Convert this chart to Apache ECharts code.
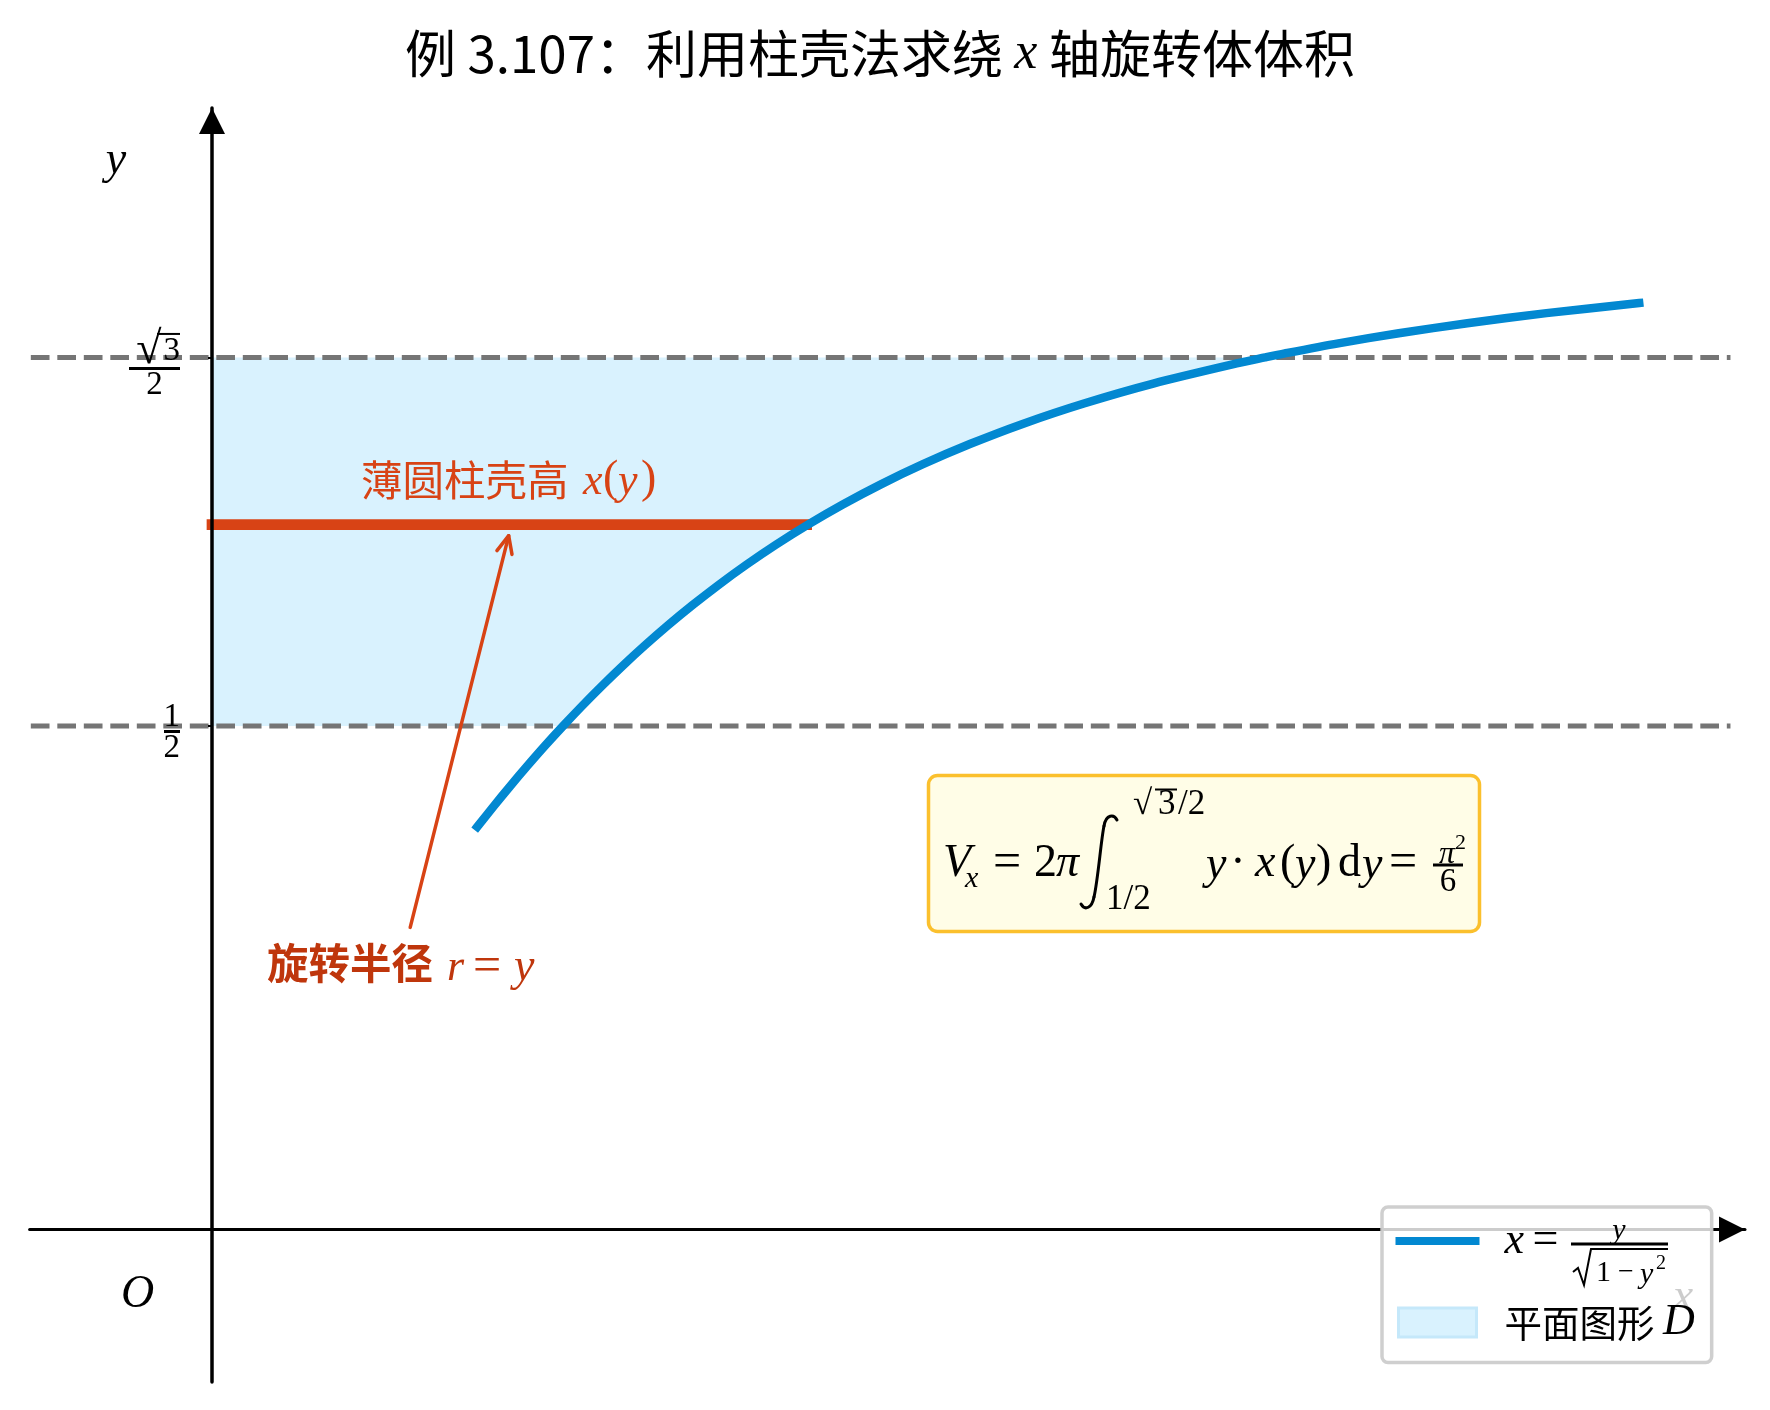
<!DOCTYPE html>
<html><head><meta charset="utf-8">
<style>html,body{margin:0;padding:0;background:#fff}#c{width:1770px;height:1410px}</style>
<script src="https://cdn.jsdelivr.net/npm/echarts@6/dist/echarts.min.js"></script>
</head><body><div id="c"></div>
<script>
// ---- data ----
const curveY = [0.40,0.42,0.44,0.46,0.48,0.50,0.52,0.54,0.56,0.58,0.60,0.62,0.64,0.66,0.68,0.70,0.72,0.74,0.76,0.78,0.80,0.82,0.84,0.86,0.866,0.87,0.88,0.89,0.90,0.91,0.92];
const curveX = [0.4364,0.4628,0.4900,0.5181,0.5471,0.5774,0.6088,0.6416,0.6759,0.7120,0.7500,0.7902,0.8329,0.8785,0.9274,0.9802,1.0375,1.1002,1.1694,1.2465,1.3333,1.4327,1.5481,1.6853,1.7321,1.7645,1.8526,1.9519,2.0647,2.1948,2.3474];
const boundY = [0.5, 0.866];
const dashX = [-0.298, 2.4975];
const shellX = [0, 0.978];
const shellY = [0.7, 0.7];
const arrowX = [0.326, 0.488];
const arrowY = [0.30, 0.689];
const curveName = 'x = y/√(1 − y²)';
const areaName = '平面图形 D';
const titleParts = ['例 3.107：利用柱壳法求绕 ', 'x', ' 轴旋转体体积'];

// ---- style ----
const CJK = '"Noto Sans CJK SC"';
const MATH = '"Liberation Serif"';
const BLUE='#0288d1', RED='#d84315', DARK='#bf360c', GREY='#757575';

const curveData = curveX.map((x,i)=>[x,curveY[i]]);
const shadeData = curveData.filter(p=>p[1]>=boundY[0]-1e-9 && p[1]<=boundY[1]+1e-9);

function T(text,x,y,size,o){o=o||{};return {type:'text',z:o.z||30,style:{text:text,x:x,y:y,
  font:(o.italic===false?'':'italic ')+size+'px '+MATH,fill:o.fill||'#000',opacity:o.opacity==null?1:o.opacity,
  align:o.align||'left',verticalAlign:'middle'}};}
function L(x1,y1,x2,y2,w,z){return {type:'line',z:z||30,shape:{x1,y1,x2,y2},style:{stroke:'#000',lineWidth:w}};}
function P(points,w,z){return {type:'polyline',z:z||30,shape:{points},style:{stroke:'#000',lineWidth:w,fill:null}};}
function B(x1,y1,cpx1,cpy1,cpx2,cpy2,x2,y2){return {type:'bezierCurve',z:30,shape:{x1,y1,cpx1,cpy1,cpx2,cpy2,x2,y2},style:{stroke:'#000',lineWidth:3,fill:null,lineCap:'round'}};}
function R(text,x,y,size,o){return T(text,x,y,size,Object.assign({italic:false},o||{}));}

const F=864; // formula centre line
const graphics = [
  // origin label and x axis label (faded under the legend)
  T('O',121,1295,46),
  T('x',1683,1298,46,{z:1,align:'center'}),
  // shell height label
  {type:'text',z:30,style:{text:'薄圆柱壳高',x:361,y:480,font:'41.5px '+CJK,fill:RED,align:'left',verticalAlign:'middle'}},
  T('x',583,482,44,{fill:RED}), R('(',603,480,46,{fill:RED}), T('y',618,482,44,{fill:RED}), R(')',641,480,46,{fill:RED}),
  // radius label
  {type:'text',z:30,style:{text:'旋转半径',x:267,y:963,font:'bold 41.5px '+CJK,fill:DARK,align:'left',verticalAlign:'middle'}},
  T('r',447,968,44,{fill:DARK}), R('=',473,968,50,{fill:DARK}), T('y',514,968,46,{fill:DARK}),
  // formula box
  {type:'rect',z:25,shape:{x:928.5,y:775.5,width:551,height:156,r:9},style:{fill:'#fffde7',stroke:'#fbc02d',lineWidth:3.5}},
  T('V',943,F,46), T('x',965,F+15,30), R('=',993,F,50), R('2',1034,F,46), T('π',1056,F,46),
  B(1117,820,1114,814,1106,814,1104,826), B(1104,826,1101,840,1098,880,1094,897), B(1094,897,1092,908,1085,911,1081,904),
  R('√',1133,805,35), L(1155,789.5,1177,789.5,2), R('3',1158,805,35), R('/2',1178,805,35),
  R('1/2',1106,900,35),
  T('y',1206,F+2,46), R('·',1238,F,46,{align:'center'}), T('x',1255,F,46), R('(',1280,F,46), T('y',1295,F+2,46), R(')',1316,F,46),
  R('d',1338,F,46), T('y',1362,F+2,46), R('=',1389,F,50),
  T('π',1447,855,32,{align:'center'}), R('2',1455,843,22), L(1433,865,1463,865,3), R('6',1448,882,33,{align:'center'}),
  // legend fraction overlay
  T('y',1619,1231,30,{align:'center'}), L(1571,1244,1668,1244,3),
  P([[1573,1272],[1578,1268],[1584,1285],[1591,1249],[1668,1249]],2),
  R('1',1596,1273,30), R('−',1618,1273,28), T('y',1640,1275,30), R('2',1656,1264,20)
];

const fracRich = {
  s15:{height:19,width:1,fontSize:1}, s13:{height:16,width:1,fontSize:1},
  ob:{height:2,width:23,backgroundColor:'#000',fontSize:1},
  bar:{height:3,width:51,backgroundColor:'#000',fontSize:1},
  bar2:{height:3,width:16,backgroundColor:'#000',fontSize:1},
  n:{fontFamily:MATH,fontSize:33,color:'#000',lineHeight:26},
  rr:{fontFamily:MATH,fontSize:46,color:'#000',lineHeight:32,padding:[0,2,0,0]},
  r:{fontFamily:MATH,fontSize:33,color:'#000',lineHeight:32},
  d:{fontFamily:MATH,fontSize:33,color:'#000',width:51,align:'center',lineHeight:31},
  d2:{fontFamily:MATH,fontSize:33,color:'#000',width:16,align:'center',lineHeight:31}
};

const option = {
  animation:false,
  backgroundColor:'#fff',
  title:{text:'{c|'+titleParts[0]+'}{m|'+titleParts[1]+'}{c|'+titleParts[2]+'}',left:875,top:19,textAlign:'center',
    textStyle:{fontWeight:'normal',rich:{c:{fontFamily:CJK,fontWeight:'normal',fontSize:51,color:'#000',lineHeight:60},m:{fontFamily:MATH,fontStyle:'italic',fontWeight:'normal',fontSize:52,color:'#000',lineHeight:60}}}},
  grid:{left:29.6,right:25,top:108,bottom:28,outerBoundsMode:'none'},
  xAxis:{type:'value',min:-0.3,max:2.5214,z:10,
    splitLine:{show:false},axisTick:{show:false},axisLabel:{show:false},
    axisLine:{onZero:true,symbol:['none','triangle'],symbolSize:[26,26],symbolOffset:[0,-13],lineStyle:{color:'#000',width:3}}},
  yAxis:{type:'value',min:-0.1514,max:1.1137,z:10,position:'left',offset:-182.4,name:'y',nameLocation:'end',nameGap:-52.5,
    nameTextStyle:{fontFamily:MATH,fontStyle:'italic',fontSize:46,color:'#000',align:'center',verticalAlign:'middle',padding:[0,192,0,0]},
    splitLine:{show:false},
    axisTick:{show:true,inside:false,length:4,customValues:boundY,lineStyle:{color:'#000',width:2}},
    axisLabel:{show:true,margin:32,customValues:boundY,align:'right',rich:fracRich,
      formatter:v=>v<0.6?'{s13|}\n{n|1}\n{bar2|}\n{d2|2}':'{s15|}\n{ob|}\n{rr|√}{r|3}\n{bar|}\n{d|2}'},
    axisLine:{onZero:false,symbol:['none','triangle'],symbolSize:[26,26],symbolOffset:[0,-13],lineStyle:{color:'#000',width:3.5}}},
  legend:{left:1382,top:1207,orient:'vertical',align:'left',z:20,selectedMode:false,
    padding:[11,17,18,12],itemWidth:84,itemHeight:31,itemGap:36.6,
    backgroundColor:'rgba(255,255,255,0.8)',borderColor:'rgba(204,204,204,0.95)',borderWidth:3.5,borderRadius:6,
    textStyle:{fontFamily:CJK,fontSize:37.5,color:'#000',padding:[0,0,0,20],
      rich:{m:{fontFamily:MATH,fontStyle:'italic',fontSize:44,color:'#000',lineHeight:31},u:{fontFamily:MATH,fontSize:46,color:'#000',lineHeight:31},c:{fontFamily:CJK,fontSize:37.5,color:'#000',lineHeight:31}}},
    data:[{name:curveName,icon:'path://M0,0L0,0M84,31L84,31M0,11.5H84V19.5H0Z',itemStyle:{color:BLUE,borderWidth:0}},
      {name:areaName,icon:'path://M0,0L0,0M84,31L84,31M3,1H81V30H3Z',itemStyle:{color:'#d9f2fe',borderColor:'#c5e8fa',borderWidth:3}}],
    formatter:n=>n===curveName?'{m|x} {u|=}':'{c|平面图形} {m|D}'
  },
  graphic:{elements:graphics},
  series:[
    {name:areaName,type:'custom',z:1,coordinateSystem:'cartesian2d',data:shadeData,encode:{x:0,y:1},silent:true,clip:false,
      itemStyle:{color:'#d9f2fe'},
      renderItem:(p,api)=>{ if(p.dataIndex!==0) return null;
        const pts=[[0,boundY[0]]].concat(shadeData,[[0,boundY[1]]]).map(q=>api.coord(q));
        return {type:'polygon',shape:{points:pts},style:{fill:'#d9f2fe'}};}},
    {name:'y=1/2',type:'line',z:4,symbol:'none',silent:true,data:dashX.map(x=>[x,boundY[0]]),lineStyle:{color:GREY,width:5,type:[18.7,7.8]}},
    {name:'y=√3/2',type:'line',z:4,symbol:'none',silent:true,data:dashX.map(x=>[x,boundY[1]]),lineStyle:{color:GREY,width:5,type:[18.7,7.8]}},
    {name:'薄圆柱壳高',type:'line',z:5,symbol:'none',silent:true,data:shellX.map((x,i)=>[x,shellY[i]]),lineStyle:{color:RED,width:10.7,cap:'square'}},
    {name:curveName,type:'line',z:6,symbol:'none',showSymbol:false,smooth:0.3,silent:true,data:curveData,lineStyle:{color:BLUE,width:8.5,cap:'square'},itemStyle:{color:BLUE}},
    {name:'旋转半径',type:'custom',z:7,coordinateSystem:'cartesian2d',silent:true,clip:false,data:arrowX.map((x,i)=>[x,arrowY[i]]),encode:{x:0,y:1},
      renderItem:(p,api)=>{ if(p.dataIndex!==0) return null;
        const a=api.coord([arrowX[0],arrowY[0]]), b=api.coord([arrowX[1],arrowY[1]]);
        const th=Math.atan2(b[1]-a[1],b[0]-a[0]), h=19, sp=0.42;
        const h1=[b[0]-h*Math.cos(th-sp),b[1]-h*Math.sin(th-sp)], h2=[b[0]-h*Math.cos(th+sp),b[1]-h*Math.sin(th+sp)];
        const st={stroke:RED,lineWidth:3.5,fill:null,lineCap:'round',lineJoin:'round'};
        return {type:'group',children:[
          {type:'polyline',shape:{points:[a,b]},style:st},
          {type:'polyline',shape:{points:[h1,b,h2]},style:st}]};}}
  ]
};
const chart=echarts.init(document.getElementById('c'),null,{renderer:'canvas'});
chart.setOption(option);
</script></body></html>
